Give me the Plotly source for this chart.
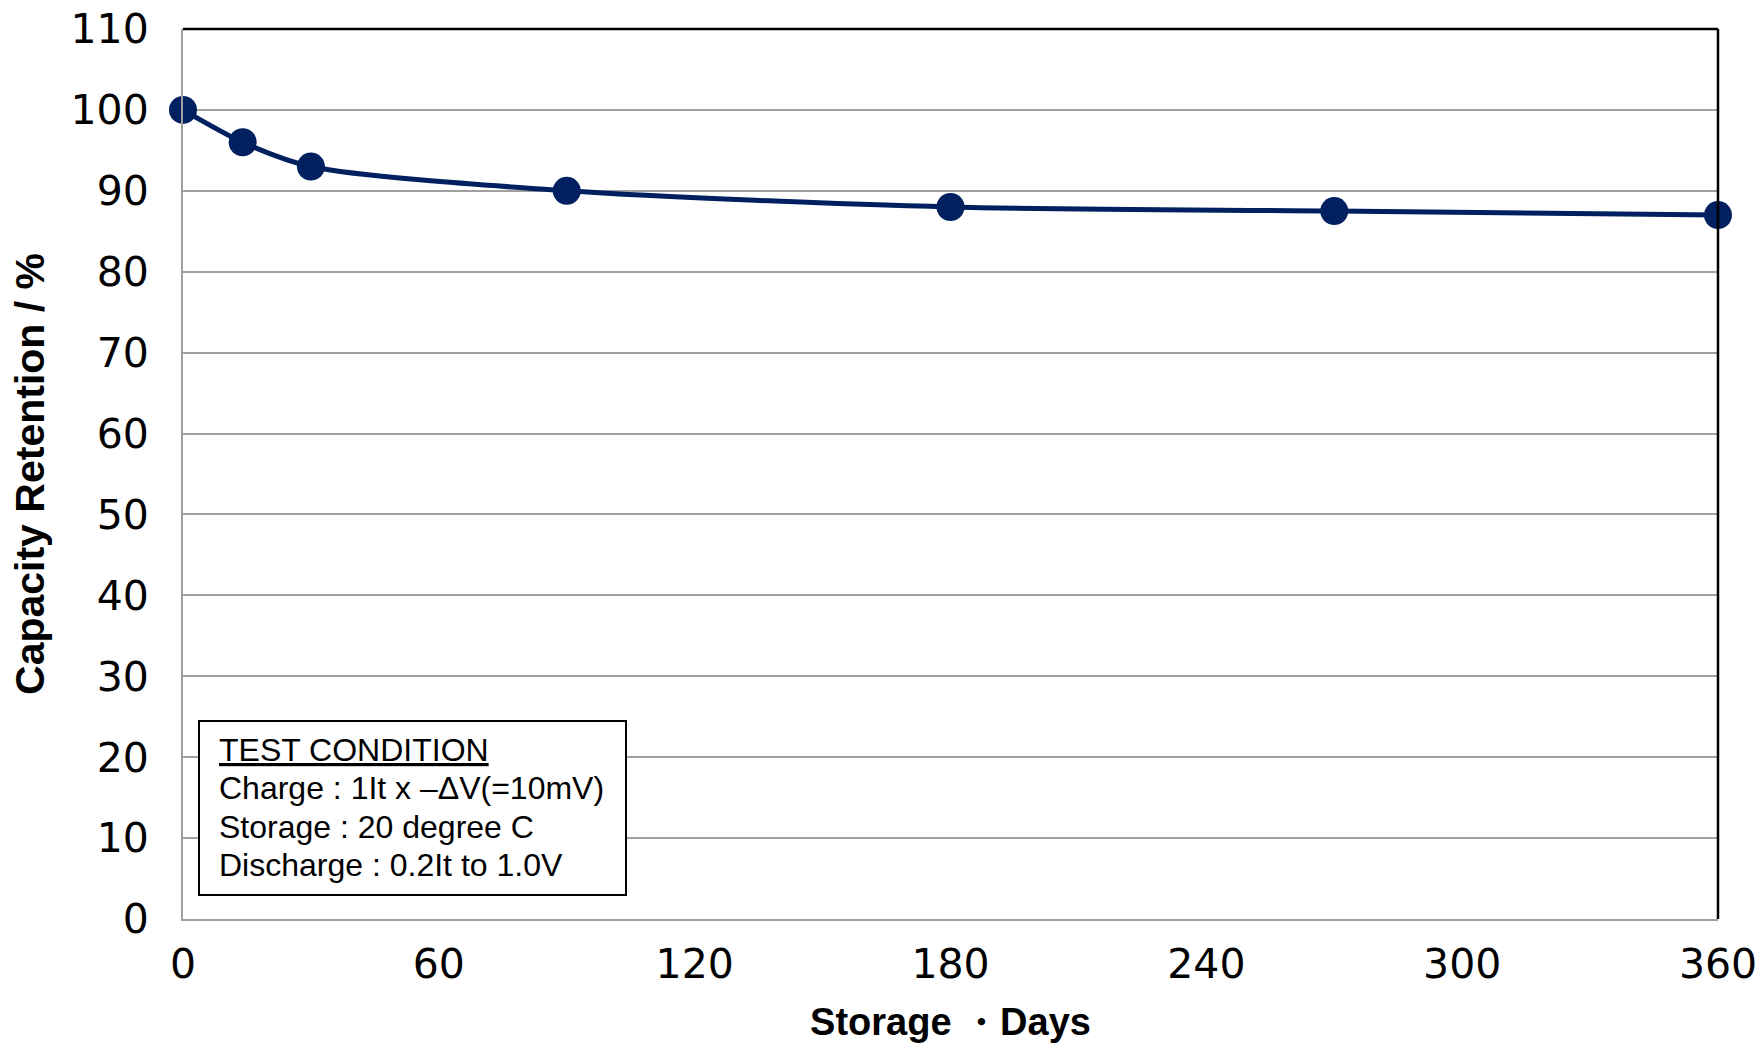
import plotly.graph_objects as go

days = [0, 14, 30, 90, 180, 270, 360]
retention = [100, 96, 93, 90, 88, 87.5, 87]
x_ticks = [0, 60, 120, 180, 240, 300, 360]
y_ticks = [0, 10, 20, 30, 40, 50, 60, 70, 80, 90, 100, 110]
box_lines = [
    "<u>TEST CONDITION</u>",
    "Charge : 1It x \u2013\u0394V(=10mV)",
    "Storage : 20 degree C",
    "Discharge : 0.2It to 1.0V",
]

W, H = 1762, 1047
L, R, T, B = 183, 1718, 29, 919

def px_to_paper_x(px):
    return (px - L) / (R - L)

def px_to_paper_y(py):
    return (B - py) / (B - T)

navy = "#002060"
grid = "#a0a0a0"

fig = go.Figure()
fig.add_trace(go.Scatter(
    x=days, y=retention, mode="lines+markers",
    line=dict(color=navy, width=5, shape="spline", smoothing=0.8),
    marker=dict(color=navy, size=28),
    cliponaxis=False, showlegend=False,
))

fig.update_layout(
    width=W, height=H,
    margin=dict(l=L, r=W - R, t=T, b=H - B, pad=0),
    paper_bgcolor="white", plot_bgcolor="white",
    xaxis=dict(
        range=[0, 360], tickvals=x_ticks, ticktext=[str(v) for v in x_ticks],
        showgrid=False, zeroline=False, showline=True, linecolor=grid, linewidth=2,
        ticks="", ticklabelstandoff=8, automargin=False, ticklabeloverflow="allow",
        tickfont=dict(family="DejaVu Sans", size=41, color="black"),
        title=dict(text="Storage \u30fbDays", standoff=21,
                   font=dict(family="Liberation Sans", size=38, color="black", weight="bold")),
    ),
    yaxis=dict(
        range=[0, 110], tickvals=y_ticks, ticktext=[str(v) for v in y_ticks],
        showgrid=True, gridcolor=grid, gridwidth=2, zeroline=False,
        showline=True, linecolor=grid, linewidth=2,
        ticks="", ticklabelstandoff=24, automargin=False, ticklabeloverflow="allow",
        tickfont=dict(family="DejaVu Sans", size=41, color="black"),
        title=dict(text="Capacity Retention / %", standoff=13,
                   font=dict(family="Liberation Sans", size=41, color="black", weight="bold")),
    ),
)

# black top and right border
fig.add_shape(type="line", xref="paper", yref="paper", x0=0, x1=1, y0=1, y1=1,
              line=dict(color="black", width=2.5))
fig.add_shape(type="line", xref="paper", yref="paper", x0=1, x1=1, y0=0, y1=1,
              line=dict(color="black", width=2.5))

# test condition box
fig.add_shape(type="rect", xref="paper", yref="paper",
              x0=px_to_paper_x(199), x1=px_to_paper_x(626),
              y0=px_to_paper_y(895), y1=px_to_paper_y(721),
              line=dict(color="black", width=2), fillcolor="white")
line_centers = [750, 788, 827, 865]
for txt, cy in zip(box_lines, line_centers):
    fig.add_annotation(
        text=txt, xref="paper", yref="paper",
        x=px_to_paper_x(217), y=px_to_paper_y(cy),
        xanchor="left", yanchor="middle", showarrow=False, align="left",
        font=dict(family="Liberation Sans", size=32, color="black"),
    )

fig.write_html(
    "out.html",
    config={"displayModeBar": False},
    post_script="document.body.style.margin='0';document.body.style.overflow='hidden';",
)
